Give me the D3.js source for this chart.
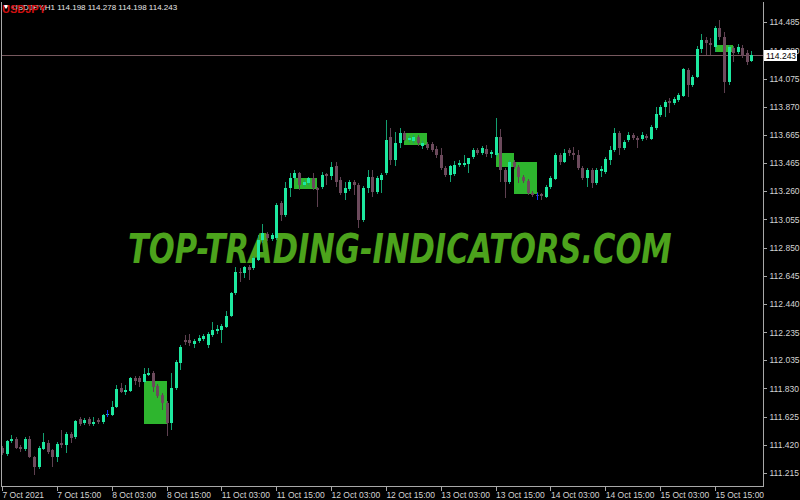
<!DOCTYPE html>
<html>
<head>
<meta charset="utf-8">
<script src="https://cdn.jsdelivr.net/npm/d3@7"></script>
<style>
  body { margin: 0; background: #000; }
  svg { display: block; background: #000; }
  text { font-family: "Liberation Sans", Arial, sans-serif; }
</style>
</head>
<body>
<svg width="800" height="500"></svg>
<script>
// USDJPY H1, 7 Oct 2021 03:00 .. 15 Oct 2021 23:00 (one value per bar)
let open = [
111.398,111.354,111.449,111.463,111.405,111.391,111.463,111.332,111.260,111.391,
111.434,111.383,111.332,111.434,111.420,111.499,111.477,111.608,111.579,111.608,
111.572,111.601,111.587,111.637,111.637,111.694,111.832,111.803,111.811,111.905,
111.905,111.876,111.926,111.941,111.847,111.782,111.723,111.579,111.832,112.014,
112.180,112.180,112.151,112.173,112.188,112.144,112.217,112.246,112.253,112.275,
112.355,112.521,112.673,112.666,112.709,112.702,112.760,112.905,112.948,112.912,
112.919,113.173,113.086,113.282,113.354,113.390,113.304,113.318,113.354,113.282,
113.289,113.383,113.369,113.441,113.340,113.246,113.275,113.326,113.304,113.050,
113.282,113.362,113.253,113.340,113.390,113.651,113.485,113.607,113.680,113.629,
113.622,113.651,113.586,113.600,113.600,113.564,113.521,113.427,113.376,113.383,
113.449,113.449,113.456,113.507,113.557,113.535,113.564,113.528,113.521,113.651,
113.412,113.326,113.470,113.434,113.362,113.333,113.246,113.231,113.239,113.217,
113.289,113.347,113.521,113.470,113.557,113.535,113.521,113.427,113.354,113.412,
113.318,113.405,113.398,113.485,113.557,113.680,113.571,113.629,113.666,113.644,
113.637,113.658,113.637,113.716,113.811,113.868,113.912,113.897,113.919,113.948,
114.137,114.028,114.086,114.289,114.354,114.332,114.303,114.441,114.376,114.050,
114.296,114.267,114.296,114.260,114.198]

let high = [
111.413,111.456,111.492,111.477,111.420,111.477,111.485,111.340,111.413,111.506,
111.456,111.391,111.442,111.528,111.514,111.514,111.601,111.622,111.615,111.622,
111.622,111.615,111.644,111.659,111.738,111.854,111.868,111.854,111.912,111.919,
111.919,111.977,111.977,111.956,111.861,111.796,111.738,111.941,112.035,112.144,
112.217,112.224,112.188,112.217,112.224,112.239,112.311,112.289,112.296,112.391,
112.529,112.709,112.702,112.716,112.724,112.789,112.941,113.021,112.963,112.955,
113.173,113.188,113.326,113.390,113.412,113.398,113.340,113.362,113.390,113.289,
113.398,113.390,113.470,113.470,113.362,113.326,113.340,113.340,113.318,113.297,
113.412,113.412,113.369,113.390,113.774,113.716,113.688,113.716,113.695,113.658,
113.666,113.666,113.622,113.615,113.615,113.586,113.571,113.441,113.449,113.478,
113.485,113.521,113.499,113.571,113.571,113.586,113.593,113.557,113.789,113.709,
113.427,113.485,113.485,113.449,113.376,113.347,113.260,113.253,113.246,113.304,
113.369,113.535,113.535,113.564,113.571,113.579,113.557,113.441,113.427,113.427,
113.427,113.441,113.507,113.586,113.716,113.695,113.629,113.688,113.680,113.658,
113.688,113.673,113.738,113.868,113.883,113.919,113.934,113.941,113.970,114.151,
114.151,114.101,114.311,114.397,114.376,114.369,114.456,114.499,114.412,114.318,
114.311,114.325,114.318,114.282,114.278]

let low = [
111.347,111.340,111.434,111.391,111.369,111.376,111.325,111.202,111.246,111.383,
111.354,111.260,111.297,111.398,111.361,111.434,111.463,111.558,111.565,111.558,
111.558,111.572,111.572,111.622,111.630,111.687,111.796,111.782,111.803,111.854,
111.839,111.868,111.919,111.803,111.760,111.673,111.485,111.528,111.818,111.963,
112.144,112.137,112.122,112.159,112.173,112.122,112.202,112.224,112.159,112.267,
112.347,112.507,112.601,112.630,112.615,112.687,112.753,112.883,112.898,112.898,
112.905,113.043,113.072,113.217,113.340,113.267,113.289,113.304,113.267,113.144,
113.275,113.304,113.340,113.289,113.231,113.195,113.260,113.231,112.992,113.036,
113.246,113.217,113.239,113.246,113.376,113.449,113.441,113.571,113.622,113.615,
113.607,113.586,113.564,113.557,113.543,113.499,113.412,113.361,113.326,113.369,
113.434,113.434,113.390,113.492,113.521,113.521,113.507,113.499,113.507,113.326,
113.210,113.311,113.420,113.318,113.318,113.231,113.217,113.202,113.195,113.210,
113.275,113.340,113.449,113.463,113.514,113.485,113.412,113.340,113.289,113.282,
113.304,113.362,113.383,113.449,113.543,113.521,113.557,113.615,113.629,113.571,
113.622,113.629,113.629,113.702,113.796,113.796,113.825,113.883,113.905,113.941,
113.941,114.014,114.079,114.260,114.246,114.246,114.267,114.354,113.970,114.028,
114.195,114.253,114.224,114.173,114.198]

let close = [
111.361,111.449,111.463,111.398,111.391,111.463,111.332,111.260,111.398,111.442,
111.369,111.332,111.427,111.420,111.499,111.470,111.594,111.572,111.601,111.572,
111.587,111.587,111.637,111.644,111.694,111.825,111.803,111.818,111.905,111.883,
111.876,111.934,111.941,111.839,111.774,111.723,111.579,111.832,112.021,112.130,
112.166,112.159,112.173,112.195,112.209,112.224,112.253,112.260,112.282,112.355,
112.521,112.673,112.666,112.709,112.687,112.774,112.905,112.955,112.919,112.941,
113.159,113.086,113.282,113.354,113.390,113.304,113.326,113.354,113.282,113.267,
113.376,113.369,113.434,113.326,113.246,113.282,113.326,113.304,113.050,113.282,
113.362,113.253,113.354,113.376,113.629,113.485,113.607,113.680,113.629,113.644,
113.651,113.607,113.607,113.571,113.557,113.521,113.427,113.376,113.441,113.449,
113.463,113.463,113.499,113.557,113.535,113.571,113.528,113.543,113.651,113.412,
113.326,113.470,113.434,113.362,113.333,113.246,113.231,113.224,113.224,113.289,
113.354,113.521,113.470,113.535,113.535,113.521,113.427,113.354,113.412,113.318,
113.412,113.420,113.492,113.557,113.680,113.571,113.615,113.666,113.644,113.629,
113.666,113.644,113.724,113.818,113.868,113.905,113.897,113.927,113.956,114.144,
114.028,114.086,114.289,114.354,114.332,114.318,114.441,114.376,114.050,114.303,
114.260,114.303,114.238,114.195,114.243]

// indicator boxes: first bar, last bar, top price, bottom price
let boxStart = [31, 64, 88, 108, 112, 156]
let boxEnd = [36, 69, 93, 112, 117, 160]
let boxTop = [111.883, 113.354, 113.680, 113.535, 113.470, 114.318]
let boxBottom = [111.572, 113.275, 113.593, 113.434, 113.239, 114.267]

// small blue indicator marks
let markBar = [23, 117]
let markPrice = [111.651, 113.224]

let priceTicks = [114.485, 114.280, 114.075, 113.870, 113.665, 113.465, 113.260, 113.055,
    112.850, 112.645, 112.440, 112.235, 112.035, 111.830, 111.625, 111.420, 111.215]

let timeTickBars = [0, 12, 24, 36, 48, 60, 72, 84, 96, 108, 120, 132, 144, 156]
let timeTickLabels = ['7 Oct 2021', '7 Oct 15:00', '8 Oct 03:00', '8 Oct 15:00', '11 Oct 03:00',
    '11 Oct 15:00', '12 Oct 03:00', '12 Oct 15:00', '13 Oct 03:00', '13 Oct 15:00',
    '14 Oct 03:00', '14 Oct 15:00', '15 Oct 03:00', '15 Oct 15:00']

let lastPrice = 114.243
let header = 'USDJPY,H1 114.198 114.278 114.198 114.243'

let svg = d3.select('svg')
let plot = { left: 1, right: 763, top: 2, bottom: 486 }
let step = 4.57

let bars = d3.range(open.length)

let scale = {
    x: d3.scaleBand().domain(bars).range([2 - step / 2, 2 + step * (bars.length - 0.5)]),
    y: d3.scaleLinear().domain([111.215, 114.485]).range([473.2, 22])
}
let cx = i => scale.x(i) + scale.x.bandwidth() / 2

let colors = {
    bull: '#1de9a0', bullWick: '#13a070',
    bear: '#6c4a5c', bearWick: '#5e4050',
    box: '#2eb52e', mark: '#1030ff',
    frame: '#a8a8a8', text: '#d4d4d4', priceLine: '#76585e'
}

// watermark behind everything, squeezed to its width in the picture
let mark = svg.append('text')
    .style('font-family', '"DejaVu Sans", sans-serif')
    .style('font-size', '40px').style('font-weight', 'bold').style('font-style', 'italic')
    .attr('fill', '#4ca31c')
    .text('TOP-TRADING-INDICATORS.COM')
let natural = mark.node().getComputedTextLength()
mark.attr('transform', `translate(128,263) scale(${544 / natural},1)`)

let chart = svg.append('g').attr('shape-rendering', 'crispEdges')

// indicator boxes
chart.selectAll('rect.box')
    .data(boxStart)
    .join('rect')
    .attr('class', 'box')
    .attr('x', (d, k) => Math.round(cx(d)))
    .attr('width', (d, k) => Math.round(cx(boxEnd[k]) - cx(d)))
    .attr('y', (d, k) => Math.round(scale.y(boxTop[k])))
    .attr('height', (d, k) => Math.round(scale.y(boxBottom[k]) - scale.y(boxTop[k])))
    .attr('fill', colors.box)

// current price line
chart.append('line')
    .attr('x1', plot.left).attr('x2', plot.right)
    .attr('y1', Math.round(scale.y(lastPrice)) + 0.5).attr('y2', Math.round(scale.y(lastPrice)) + 0.5)
    .attr('stroke', colors.priceLine)

// candles
let candle = chart.selectAll('g.candle')
    .data(bars)
    .join('g')
    .attr('class', 'candle')

candle.append('line')
    .attr('x1', i => Math.round(cx(i)) + 0.5)
    .attr('x2', i => Math.round(cx(i)) + 0.5)
    .attr('y1', i => scale.y(high[i]))
    .attr('y2', i => scale.y(low[i]))
    .attr('stroke', i => close[i] >= open[i] ? colors.bullWick : colors.bearWick)

candle.append('rect')
    .attr('x', i => Math.round(cx(i)) - 1)
    .attr('width', 3)
    .attr('y', i => Math.round(scale.y(Math.max(open[i], close[i]))))
    .attr('height', i => Math.max(1, Math.round(Math.abs(scale.y(open[i]) - scale.y(close[i])))))
    .attr('fill', i => close[i] >= open[i] ? colors.bull : colors.bear)

// blue marks
chart.selectAll('rect.mark')
    .data(markBar)
    .join('rect')
    .attr('class', 'mark')
    .attr('x', d => Math.round(cx(d)))
    .attr('y', (d, k) => Math.round(scale.y(markPrice[k])) - 3)
    .attr('width', 1).attr('height', 7)
    .attr('fill', colors.mark)

// frame: left, bottom, right
chart.append('path')
    .attr('d', `M${plot.left + 0.5},${plot.top} V${plot.bottom + 0.5} H${plot.right + 0.5} V${plot.top}`)
    .attr('fill', 'none').attr('stroke', colors.frame)

// price axis
let yAxis = svg.append('g')
    .attr('transform', `translate(${plot.right + 0.5},0)`)
    .call(d3.axisRight(scale.y).tickValues(priceTicks).tickFormat(d3.format('.3f')).tickSize(3).tickPadding(3))
yAxis.select('.domain').remove()
yAxis.selectAll('line').attr('stroke', colors.frame).attr('shape-rendering', 'crispEdges')
yAxis.selectAll('text').attr('fill', colors.text).style('font-size', '8.5px')
    .style('font-family', '"Liberation Sans", Arial, sans-serif')

// time axis
let tickScale = d3.scalePoint().domain(timeTickBars).range([cx(timeTickBars[0]), cx(timeTickBars[timeTickBars.length - 1])])
let xAxis = svg.append('g')
    .attr('transform', `translate(0,${plot.bottom + 0.5})`)
    .call(d3.axisBottom(tickScale).tickFormat((d, k) => timeTickLabels[k]).tickSize(4).tickPadding(1))
xAxis.select('.domain').remove()
xAxis.selectAll('line').attr('stroke', colors.frame).attr('shape-rendering', 'crispEdges')
xAxis.selectAll('text').attr('fill', colors.text).attr('text-anchor', 'start')
    .style('font-size', '8.5px').style('font-family', '"Liberation Sans", Arial, sans-serif')

// last price label
let lp = Math.round(scale.y(lastPrice))
svg.append('rect')
    .attr('x', 764).attr('y', lp - 5).attr('width', 33).attr('height', 11)
    .attr('fill', '#fff')
svg.append('text')
    .attr('x', 766).attr('y', lp + 3.5)
    .style('font-size', '8.5px').attr('fill', '#000')
    .text(d3.format('.3f')(lastPrice))

// header
svg.append('path')
    .attr('d', 'M3,5 L9,5 L6,9 Z')
    .attr('fill', '#fff')
svg.append('text')
    .attr('x', 12).attr('y', 10)
    .style('font-size', '8px').attr('fill', '#e8e8e8')
    .text(header)
svg.append('text')
    .attr('x', 2).attr('y', 13)
    .style('font-size', '11px').style('font-weight', 'bold').attr('fill', '#d01010')
    .text('USDJPY')
</script>
</body>
</html>
